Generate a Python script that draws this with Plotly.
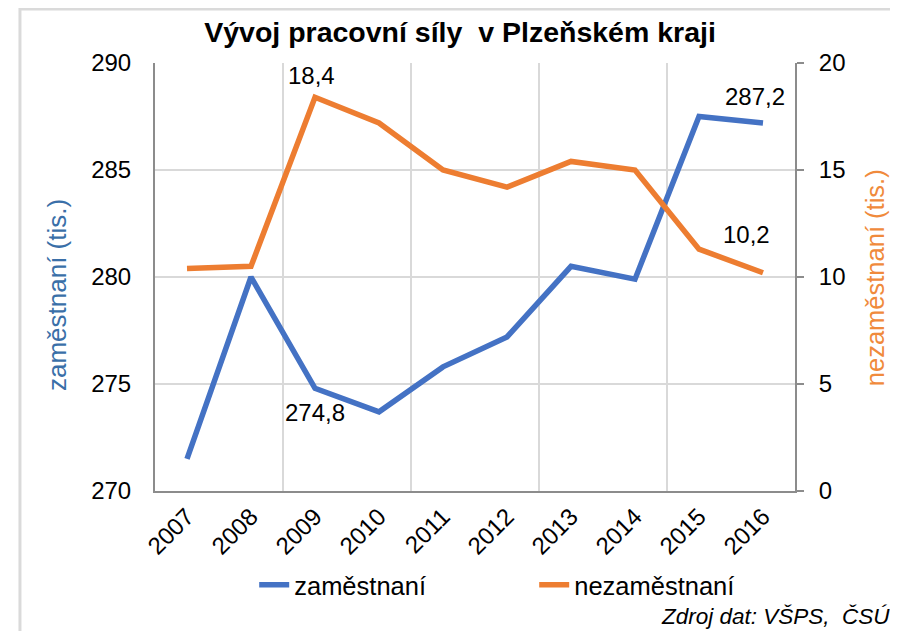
import plotly.graph_objects as go

years = ["2007", "2008", "2009", "2010", "2011", "2012", "2013", "2014", "2015", "2016"]
zamestnani = [271.5, 280.0, 274.8, 273.7, 275.8, 277.2, 280.5, 279.9, 287.5, 287.2]
nezamestnani = [10.4, 10.5, 18.4, 17.2, 15.0, 14.2, 15.4, 15.0, 11.3, 10.2]
# indices of points that carry a data label
label_idx_zam = [2, 9]
label_idx_nez = [2, 9]

BLUE = "#4472C4"
ORANGE = "#ED7D31"
FONT = "Liberation Sans, Arial, sans-serif"
xs = list(range(len(years)))


def fmt(v):
    return f"{v:.1f}".replace(".", ",")


fig = go.Figure()
fig.add_trace(go.Scatter(
    x=xs, y=zamestnani, name="zaměstnaní", mode="lines",
    line=dict(color=BLUE, width=5.5), yaxis="y"))
fig.add_trace(go.Scatter(
    x=xs, y=nezamestnani, name="nezaměstnaní", mode="lines",
    line=dict(color=ORANGE, width=5.5), yaxis="y2"))

# label offsets (style only)
shift_zam = {2: (0, -24), 9: (-8, 26)}
shift_nez = {2: (-4, 22), 9: (-17, 38)}
annotations = []
for i in label_idx_zam:
    dx, dy = shift_zam[i]
    annotations.append(dict(x=xs[i], y=zamestnani[i], xref="x", yref="y",
                            text=fmt(zamestnani[i]), showarrow=False,
                            xshift=dx, yshift=dy,
                            font=dict(size=24, color="#000000", family=FONT)))
for i in label_idx_nez:
    dx, dy = shift_nez[i]
    annotations.append(dict(x=xs[i], y=nezamestnani[i], xref="x", yref="y2",
                            text=fmt(nezamestnani[i]), showarrow=False,
                            xshift=dx, yshift=dy,
                            font=dict(size=24, color="#000000", family=FONT)))
# axis titles
annotations.append(dict(text="zaměstnaní (tis.)", xref="paper", yref="paper",
                        x=-0.153, y=0.458, xanchor="center", yanchor="middle",
                        textangle=-90, showarrow=False,
                        font=dict(size=26, color="#3A6FA8", family=FONT)))
annotations.append(dict(text="nezaměstnaní (tis.)", xref="paper", yref="paper",
                        x=1.124, y=0.498, xanchor="center", yanchor="middle",
                        textangle=-90, showarrow=False,
                        font=dict(size=25.5, color="#F08A3C", family=FONT)))
annotations.append(dict(text="<i>Zdroj dat: VŠPS,  ČSÚ</i>", xref="paper", yref="paper",
                        x=1.152, xanchor="right", y=-0.294, yanchor="middle",
                        showarrow=False,
                        font=dict(size=22.5, color="#000000", family=FONT)))

fig.update_layout(
    width=882, height=623,
    margin=dict(l=147, r=95, t=55, b=140),
    paper_bgcolor="white", plot_bgcolor="white",
    font=dict(family=FONT, color="#000000", size=22),
    title=dict(text="<b>Vývoj pracovní síly  v Plzeňském kraji</b>",
               x=0.5125, xanchor="center", y=0.9615, yanchor="middle",
               font=dict(size=28.5, family=FONT, color="#000000")),
    xaxis=dict(range=[-0.5, 9.5], tickmode="array", tickvals=xs, ticktext=years,
               tickangle=-45, tickfont=dict(size=24), showgrid=False,
               showline=True, linecolor="#8C8C8C", linewidth=2, ticks="",
               zeroline=False, automargin=False,
               minor=dict(tick0=-0.5, dtick=2, showgrid=True, gridcolor="#D9D9D9",
                          gridwidth=2, ticks="")),
    yaxis=dict(range=[270, 290], dtick=5, tickfont=dict(size=24),
               showgrid=True, gridcolor="#D9D9D9", gridwidth=2,
               showline=True, linecolor="#8C8C8C", linewidth=2, ticks="",
               zeroline=False, ticklabelstandoff=17, automargin=False),
    yaxis2=dict(range=[0, 20], dtick=5, overlaying="y", side="right",
                tickfont=dict(size=24), showgrid=False, zeroline=False,
                showline=True, linecolor="#8C8C8C", linewidth=2,
                ticks="outside", ticklen=7, tickcolor="#8C8C8C", tickwidth=2,
                ticklabelstandoff=10, automargin=False),
    legend=dict(orientation="h", x=0.155, xanchor="left", y=-0.22, yanchor="middle",
                font=dict(size=25.5), itemwidth=30, entrywidth=235,
                bgcolor="rgba(0,0,0,0)"),
    annotations=annotations,
    shapes=[dict(type="rect", xref="paper", yref="paper",
                 x0=-0.211, x1=1.25, y0=-0.45, y1=1.126,
                 line=dict(color="#DADADA", width=3), fillcolor="rgba(0,0,0,0)",
                 layer="below")],
)

fig.write_html("out.html")
